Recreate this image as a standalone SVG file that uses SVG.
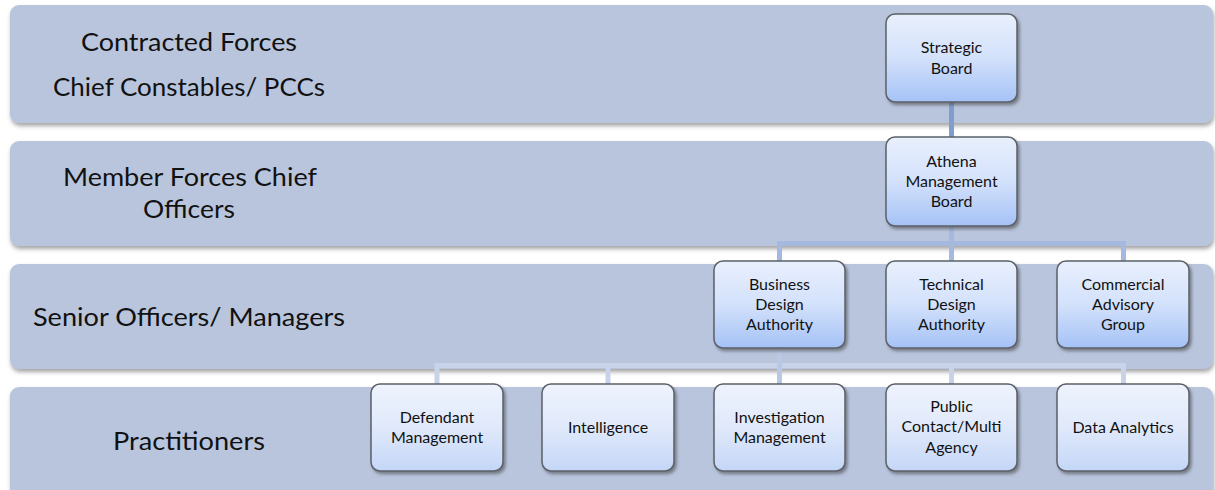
<svg xmlns="http://www.w3.org/2000/svg" width="1215" height="490" viewBox="0 0 1215 490">
<defs>
  <linearGradient id="gBox" x1="0" y1="0" x2="0" y2="1">
    <stop offset="0" stop-color="#e9f0fd"/>
    <stop offset="0.5" stop-color="#d3e1fb"/>
    <stop offset="1" stop-color="#a5c2f6"/>
  </linearGradient>
  <linearGradient id="gBoxL" x1="0" y1="0" x2="0" y2="1">
    <stop offset="0" stop-color="#eef3fd"/>
    <stop offset="0.5" stop-color="#e0e9fb"/>
    <stop offset="1" stop-color="#c4d6f7"/>
  </linearGradient>
  <filter id="bandShadow" x="-2%" y="-10%" width="104%" height="130%">
    <feDropShadow dx="1" dy="3" stdDeviation="2" flood-color="#6b6b6b" flood-opacity="0.6"/>
  </filter>
  <filter id="boxShadow" x="-10%" y="-10%" width="125%" height="125%">
    <feDropShadow dx="2" dy="2.5" stdDeviation="1.5" flood-color="#404040" flood-opacity="0.55"/>
  </filter>
</defs>
<style>
  .band { fill: #b9c5dd; filter: url(#bandShadow); }
  .box { stroke: #5b6068; stroke-width: 1.5; filter: url(#boxShadow); }
  .up { fill: url(#gBox); }
  .low { fill: url(#gBoxL); }
  .lbl { font-family: Lato, "Open Sans", sans-serif; font-size: 25.5px; fill: #111; text-anchor: middle; }
  .t { font-family: Lato, "Open Sans", sans-serif; font-size: 16px; fill: #111; text-anchor: middle; }
  .c1 { stroke: #7f9ecf; stroke-width: 5; fill: none; }
  .c2 { stroke: #a5b9de; stroke-width: 5; fill: none; }
  .c3 { stroke: #c8d3e9; stroke-width: 5; fill: none; }
</style>
<rect width="1215" height="490" fill="#ffffff"/>
<g id="bands">
  <rect class="band" x="10" y="5" width="1203" height="118" rx="9"/>
  <rect class="band" x="10" y="141" width="1203" height="105" rx="9"/>
  <rect class="band" x="10" y="264" width="1203" height="105" rx="9"/>
  <rect class="band" x="10" y="387" width="1203" height="115" rx="9"/>
</g>
<g id="band-labels">
  <text class="lbl" x="189" y="51" textLength="216" lengthAdjust="spacingAndGlyphs">Contracted Forces</text>
  <text class="lbl" x="189" y="96" textLength="272" lengthAdjust="spacingAndGlyphs">Chief Constables/ PCCs</text>
  <text class="lbl" x="190" y="186" textLength="254" lengthAdjust="spacingAndGlyphs">Member Forces Chief</text>
  <text class="lbl" x="189" y="218" textLength="92" lengthAdjust="spacingAndGlyphs">Officers</text>
  <text class="lbl" x="189" y="326" textLength="312" lengthAdjust="spacingAndGlyphs">Senior Officers/ Managers</text>
  <text class="lbl" x="189" y="450" textLength="152" lengthAdjust="spacingAndGlyphs">Practitioners</text>
</g>
<g id="connectors">
  <path class="c1" d="M951.5 100 V139"/>
  <path class="c2" d="M951.5 224 V263 M779.5 263 V243.5 H1123.5 V263"/>
  <path class="c3" d="M437 386 V365.5 H1123.5 V386 M608 365.5 V386 M951.5 365.5 V386"/>
  <path class="c2" d="M779.5 346 V386" style="stroke:#b9c8e4"/>
</g>
<g id="strategic-board">
  <rect class="box up" x="886" y="14" width="131" height="88" rx="9"/>
  <text class="t" x="951.5" y="53">Strategic</text>
  <text class="t" x="951.5" y="74">Board</text>
</g>
<g id="athena-management-board">
  <rect class="box up" x="886" y="137" width="131" height="89" rx="9"/>
  <text class="t" x="951.5" y="167">Athena</text>
  <text class="t" x="951.5" y="187">Management</text>
  <text class="t" x="951.5" y="207">Board</text>
</g>
<g id="business-design-authority">
  <rect class="box up" x="714" y="261" width="131" height="87" rx="9"/>
  <text class="t" x="779.5" y="290">Business</text>
  <text class="t" x="779.5" y="310">Design</text>
  <text class="t" x="779.5" y="330">Authority</text>
</g>
<g id="technical-design-authority">
  <rect class="box up" x="886" y="261" width="131" height="87" rx="9"/>
  <text class="t" x="951.5" y="290">Technical</text>
  <text class="t" x="951.5" y="310">Design</text>
  <text class="t" x="951.5" y="330">Authority</text>
</g>
<g id="commercial-advisory-group">
  <rect class="box up" x="1057" y="261" width="132" height="87" rx="9"/>
  <text class="t" x="1123" y="290">Commercial</text>
  <text class="t" x="1123" y="310">Advisory</text>
  <text class="t" x="1123" y="330">Group</text>
</g>
<g id="defendant-management">
  <rect class="box low" x="371" y="384" width="132" height="87" rx="9"/>
  <text class="t" x="437" y="423">Defendant</text>
  <text class="t" x="437" y="443">Management</text>
</g>
<g id="intelligence">
  <rect class="box low" x="542" y="384" width="132" height="87" rx="9"/>
  <text class="t" x="608" y="433">Intelligence</text>
</g>
<g id="investigation-management">
  <rect class="box low" x="714" y="384" width="131" height="87" rx="9"/>
  <text class="t" x="779.5" y="423">Investigation</text>
  <text class="t" x="779.5" y="443">Management</text>
</g>
<g id="public-contact-multi-agency">
  <rect class="box low" x="886" y="384" width="131" height="87" rx="9"/>
  <text class="t" x="951.5" y="412">Public</text>
  <text class="t" x="951.5" y="432">Contact/Multi</text>
  <text class="t" x="951.5" y="453">Agency</text>
</g>
<g id="data-analytics">
  <rect class="box low" x="1057" y="384" width="132" height="87" rx="9"/>
  <text class="t" x="1123" y="433">Data Analytics</text>
</g>
</svg>
